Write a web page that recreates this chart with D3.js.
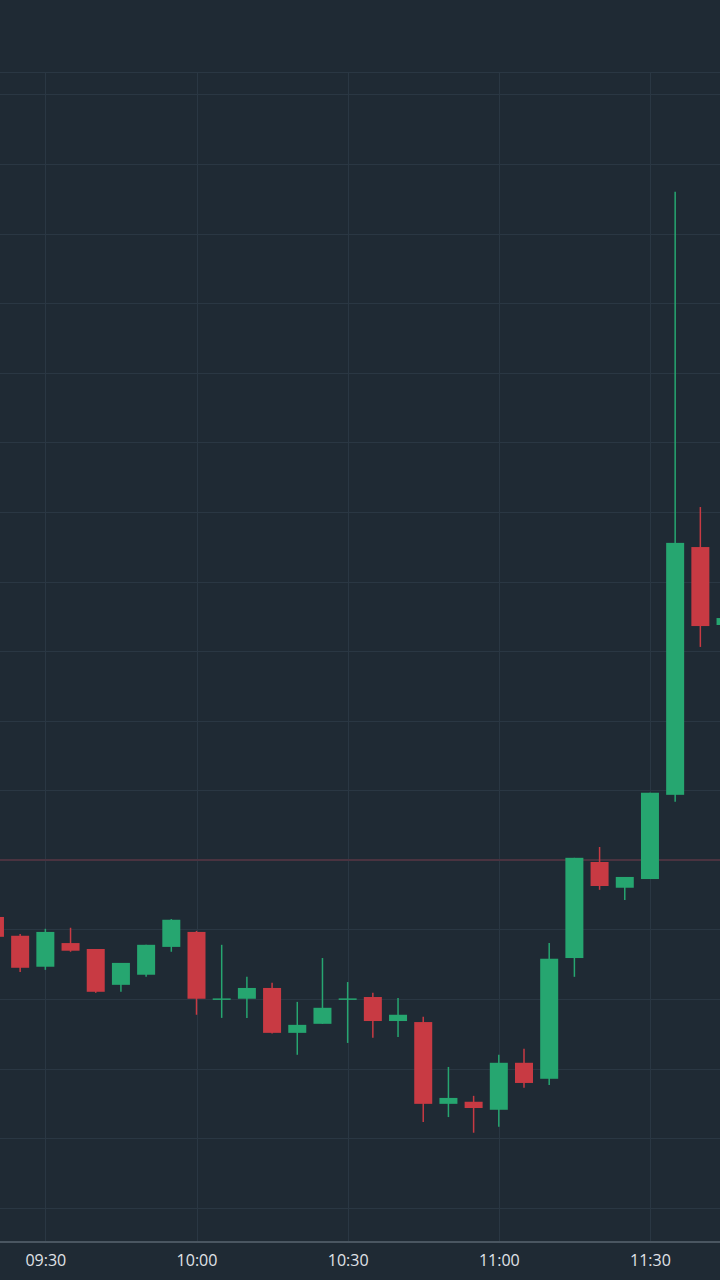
<!DOCTYPE html>
<meta charset="utf-8">
<style>
body {
  margin: 0;
  background-color: #1f2a34;
  overflow: hidden;
}
svg {
  display: block;
  font-family: "Open Sans", "Noto Sans", sans-serif;
}
.grid line {
  stroke: #2a3743;
  stroke-width: 1;
  shape-rendering: crispEdges;
}
.x.axis path {
  stroke: #4a5661;
  stroke-width: 2;
}
.x.axis text {
  fill: #e0e3e8;
  font-size: 16px;
}
</style>

<script src="https://d3js.org/d3.v7.min.js"></script>

<body>
<script>

// 5 minute candles
var times = ["09:20","09:25","09:30","09:35","09:40","09:45","09:50","09:55",
             "10:00","10:05","10:10","10:15","10:20","10:25","10:30","10:35",
             "10:40","10:45","10:50","10:55","11:00","11:05","11:10","11:15",
             "11:20","11:25","11:30","11:35","11:40","11:45"];
var open  = [118.36,117.82,116.93,117.61,117.44,116.41,116.70,117.50,
             117.93,115.99,116.01,116.32,115.03,115.29,115.99,116.06,
             115.37,115.34,112.99,113.05,112.82,114.17,113.71,117.18,
             119.94,119.20,119.45,121.87,128.99,126.75];
var high  = [118.51,117.87,118.02,118.05,117.44,117.04,117.56,118.30,
             117.96,117.56,116.64,116.47,115.92,117.18,116.49,116.18,
             116.03,115.49,114.05,113.22,114.40,114.57,117.61,120.06,
             120.37,119.51,121.93,139.20,130.14,127.04];
var low   = [117.67,116.78,116.84,117.36,116.18,116.21,116.64,117.36,
             115.55,115.46,115.46,115.01,114.40,115.29,114.74,114.89,
             114.91,112.47,112.61,112.16,112.33,113.45,113.53,116.64,
             119.14,118.85,119.45,121.67,126.12,126.67];
var close = [117.79,116.90,117.93,117.39,116.21,117.04,117.56,118.28,
             116.01,116.02,116.32,115.03,115.26,115.75,116.02,115.37,
             115.55,112.99,113.16,112.87,114.17,113.59,117.16,120.06,
             119.25,119.51,121.93,129.11,126.72,126.95];
var refPrice = 120;   // the faint red level line
var priceGrid = d3.range(110, 143, 2);

var width = 720, height = 1280,
    paneTop = 72, axisY = 1242;

var parseTime = function(s) {
  var p = s.split(":");
  return new Date(2024, 0, 2, +p[0], +p[1]);
};

var data = times.map(function(t, i) {
  return {t: parseTime(t), o: open[i], h: high[i], l: low[i], c: close[i]};
});

var svg = d3.select("body").append("svg")
    .attr("width", width)
    .attr("height", height);

var x = d3.scaleTime()
    .domain([new Date(2024, 0, 2, 9, 21, 0), new Date(2024, 0, 2, 11, 43, 54)])
    .range([0, width]);
var y = d3.scaleLinear()
    .domain([109.02, 144.71])
    .range([axisY, 0]);

var xTicks = x.ticks(d3.timeMinute.every(30));

// grid
var grid = svg.append("g").attr("class", "grid");
grid.append("line")
    .attr("x1", 0).attr("x2", width)
    .attr("y1", paneTop).attr("y2", paneTop);
grid.selectAll(".h")
    .data(priceGrid)
  .enter().append("line")
    .attr("class", "h")
    .attr("x1", 0).attr("x2", width)
    .attr("y1", function(d) { return Math.round(y(d)) + 0.5; })
    .attr("y2", function(d) { return Math.round(y(d)) + 0.5; });
grid.selectAll(".v")
    .data(xTicks)
  .enter().append("line")
    .attr("class", "v")
    .attr("x1", function(d) { return Math.round(x(d)) + 0.5; })
    .attr("x2", function(d) { return Math.round(x(d)) + 0.5; })
    .attr("y1", paneTop).attr("y2", axisY);

// reference level
svg.append("line")
    .attr("x1", 0).attr("x2", width)
    .attr("y1", y(refPrice)).attr("y2", y(refPrice))
    .attr("stroke", "#4a3340")
    .attr("stroke-width", 2);

// candles
var up = "#26a670", down = "#c83a43";
var bodyW = 18;
var candle = svg.selectAll(".candle")
    .data(data)
  .enter().append("g")
    .attr("class", "candle")
    .attr("fill", function(d) { return d.c >= d.o ? up : down; })
    .attr("stroke", function(d) { return d.c >= d.o ? up : down; });

candle.append("line")
    .attr("x1", function(d) { return x(d.t); })
    .attr("x2", function(d) { return x(d.t); })
    .attr("y1", function(d) { return y(d.h); })
    .attr("y2", function(d) { return y(d.l); })
    .attr("stroke-width", 1.5);

candle.append("rect")
    .attr("stroke", "none")
    .attr("x", function(d) { return x(d.t) - bodyW / 2; })
    .attr("width", bodyW)
    .attr("y", function(d) { return y(Math.max(d.o, d.c)); })
    .attr("height", function(d) { return Math.max(1.5, Math.abs(y(d.o) - y(d.c))); });

// time axis
var xAxis = d3.axisBottom(x)
    .ticks(d3.timeMinute.every(30))
    .tickFormat(d3.timeFormat("%H:%M"))
    .tickSize(0)
    .tickPadding(13);

svg.append("g")
    .attr("class", "x axis")
    .attr("transform", "translate(0," + axisY + ")")
    .call(xAxis)
    .call(function(g) { g.select(".domain").attr("d", "M0,0H" + width); })
    .attr("font-family", null)
    .attr("font-size", null);

</script>
